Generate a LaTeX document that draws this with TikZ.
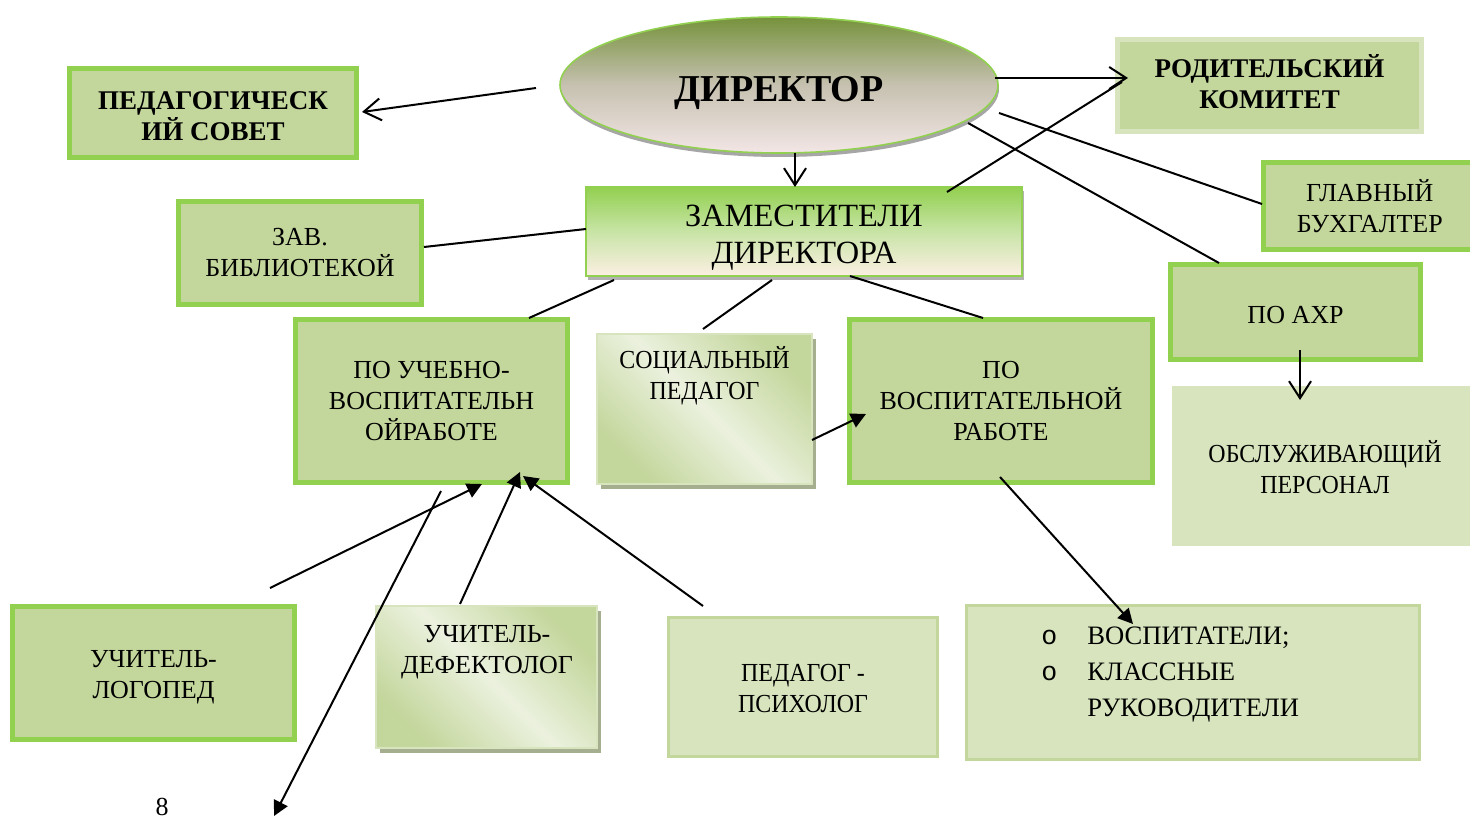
\documentclass[tikz,border=0pt]{standalone}
\usepackage{fontspec}
\setmainfont{Liberation Serif}
\newfontfamily\monofam{Liberation Mono}
\newfontfamily\narrowfam[FakeStretch=0.92]{Liberation Serif}
\usetikzlibrary{arrows.meta,shapes.geometric,shadows}
\definecolor{gb}{HTML}{92D050}
\definecolor{fa}{HTML}{C3D69B}
\definecolor{fb}{HTML}{D7E4BD}
\definecolor{fl}{HTML}{EBF1DE}
\definecolor{shg}{HTML}{A6AE90}
\definecolor{eltop}{HTML}{76923C}
\definecolor{elmid}{HTML}{C6C1B0}
\definecolor{elbot}{HTML}{F3E6E6}
\definecolor{zbot}{HTML}{FCEFE3}
\definecolor{zmid}{HTML}{C8E4A6}
\begin{document}
\begin{tikzpicture}[x=0.5pt,y=-0.5pt,
  wh/.style 2 args={minimum width={#1*0.5pt},minimum height={#2*0.5pt}},
  base/.style={inner sep=0pt,outer sep=0pt,align=center,font=\fontsize{13}{15.5}\selectfont},
  gbox/.style={base,draw=gb,line width=2.5pt,fill=fa},
  lbox/.style={base,draw=fb,line width=2.5pt,fill=fa},
  pbox/.style={base,draw=fa,line width=1.5pt,fill=fb},
  nbox/.style={base,fill=fb},
  sbox/.style={base,draw=fb,line width=0.6pt,top color=fa,bottom color=fa,middle color=fl,shading angle=135,
    drop shadow={shadow xshift=2pt,shadow yshift=-2.5pt,fill=shg,opacity=1}},
  txt/.style={inner sep=0pt,align=center,font=\fontsize{13}{15.5}\selectfont},
  btxt/.style={inner sep=0pt,align=center,font=\bfseries\fontsize{13.5}{15.5}\selectfont},
  ntxt/.style={inner sep=0pt,align=center,font=\narrowfam\fontsize{13}{15.5}\selectfont},
  oarr/.style={line width=1pt,-{Straight Barb[length=8.5pt,width=11pt]}},
  farr/.style={line width=1pt,-{Triangle[length=7.5pt,width=7.5pt]}},
  conn/.style={line width=1pt}
]
\useasboundingbox (0,0) rectangle (1470,818);

% boxes
\node[ellipse,base,wh={438}{136},draw=gb,line width=0.8pt,top color=eltop,bottom color=elbot,middle color=elmid,
  drop shadow={shadow xshift=0.5pt,shadow yshift=-2pt,fill=gray!70,opacity=1}] (dir) at (779,85) {};
\node[gbox,wh={287}{89}] (ped) at (213,113) {};
\node[lbox,wh={304}{92}] (rod) at (1269.5,85.5) {};
\node[gbox,wh={212.5}{87}] (glav) at (1369.75,206) {ГЛАВНЫЙ\\БУХГАЛТЕР};
\node[base,wh={436}{89},draw=gb,line width=0.6pt,top color=gb,bottom color=zbot,middle color=zmid,
  drop shadow={shadow xshift=1pt,shadow yshift=-2pt,fill=gray!60,opacity=1}] (zam) at (804,231.5) {};
\node[gbox,wh={243}{103}] (zav) at (300,253) {ЗАВ.\\БИБЛИОТЕКОЙ};
\node[gbox,wh={250}{95}] (axr) at (1295.5,312) {};
\node[gbox,wh={272}{163}] (uch) at (431.5,401) {ПО УЧЕБНО-\\ВОСПИТАТЕЛЬН\\ОЙРАБОТЕ};
\node[sbox,wh={215}{150}] (soc) at (704.5,409) {};
\node[gbox,wh={303}{163}] (vosp) at (1001,401) {ПО\\ВОСПИТАТЕЛЬНОЙ\\РАБОТЕ};
\node[nbox,wh={306}{160}] (obs) at (1325,466) {};
\node[gbox,wh={282}{133}] (log) at (153.5,673) {};
\node[sbox,wh={221}{142}] (def) at (486.5,677) {};
\node[pbox,wh={269}{139}] (psi) at (803,687) {};
\node[pbox,wh={453}{154}] (vos2) at (1193,682.5) {};

% texts
\node[inner sep=0pt,font=\bfseries\fontsize{19}{22}\selectfont] (dirt) at (779,93) {ДИРЕКТОР};
\node[btxt] (pedt) at (213,116) {ПЕДАГОГИЧЕСК\\ИЙ СОВЕТ};
\node[btxt] (rodt) at (1269.5,82) {РОДИТЕЛЬСКИЙ\\КОМИТЕТ};
\node[inner sep=0pt,align=center,font=\fontsize{16.2}{18.5}\selectfont] (zamt) at (804,238) {ЗАМЕСТИТЕЛИ\\ДИРЕКТОРА};
\node[txt] (axrt) at (1295.5,315) {ПО АХР};
\node[ntxt] (soct) at (704.5,376) {СОЦИАЛЬНЫЙ\\ПЕДАГОГ};
\node[ntxt] (obst) at (1325,467) {ОБСЛУЖИВАЮЩИЙ\\ПЕРСОНАЛ};
\node[txt] (logt) at (153.5,677) {УЧИТЕЛЬ-\\ЛОГОПЕД};
\node[txt] (deft) at (487,652) {УЧИТЕЛЬ-\\ДЕФЕКТОЛОГ};
\node[ntxt] (psit) at (803,689) {ПЕДАГОГ -\\ПСИХОЛОГ};
\node[txt,anchor=west,align=left,font=\fontsize{13.3}{18}\selectfont] (vos2t) at (1041,675)
  {\makebox[23pt][l]{\monofam o}ВОСПИТАТЕЛИ;\\\makebox[23pt][l]{\monofam o}КЛАССНЫЕ\\\hspace*{23pt}РУКОВОДИТЕЛИ};
\node[txt,anchor=base] (pg) at (162,815) {8};

% free ends
\coordinate (c1) at (536,88);
\coordinate (c2) at (362,112);
\coordinate (c3) at (995,78);
\coordinate (c4) at (1128,78);
\coordinate (c5) at (947,192);
\coordinate (c6) at (1122,82);
\coordinate (c7) at (999,113);
\coordinate (c8) at (1262,204);
\coordinate (c9) at (968,123);
\coordinate (c10) at (1219,263);
\coordinate (c11) at (795,153);
\coordinate (c12) at (795,187);
\coordinate (c13) at (586,229);
\coordinate (c14) at (424,247);
\coordinate (c15) at (614,280);
\coordinate (c16) at (529,318);
\coordinate (c17) at (772,280);
\coordinate (c18) at (703,329);
\coordinate (c19) at (850,276);
\coordinate (c20) at (983,318);
\coordinate (c21) at (812,440);
\coordinate (c22) at (866,414);
\coordinate (c23) at (1300,350);
\coordinate (c24) at (1300,400);
\coordinate (c25) at (1000,477);
\coordinate (c26) at (1133,624);
\coordinate (c27) at (270,588);
\coordinate (c28) at (482,484);
\coordinate (c29) at (460,604);
\coordinate (c30) at (520,472);
\coordinate (c31) at (703,606);
\coordinate (c32) at (523,476);
\coordinate (c33) at (441,491);
\coordinate (c34) at (274,816);

% connectors
\draw[oarr] (c1) -- (c2);
\draw[oarr] (c3) -- (c4);
\draw[conn] (c5) -- (c6);
\draw[conn] (c7) -- (c8);
\draw[conn] (c9) -- (c10);
\draw[oarr] (c11) -- (c12);
\draw[conn] (c13) -- (c14);
\draw[conn] (c15) -- (c16);
\draw[conn] (c17) -- (c18);
\draw[conn] (c19) -- (c20);
\draw[farr] (c21) -- (c22);
\draw[oarr] (c23) -- (c24);
\draw[farr] (c25) -- (c26);
\draw[farr] (c27) -- (c28);
\draw[farr] (c29) -- (c30);
\draw[farr] (c31) -- (c32);
\draw[farr] (c33) -- (c34);
\end{tikzpicture}
\end{document}
